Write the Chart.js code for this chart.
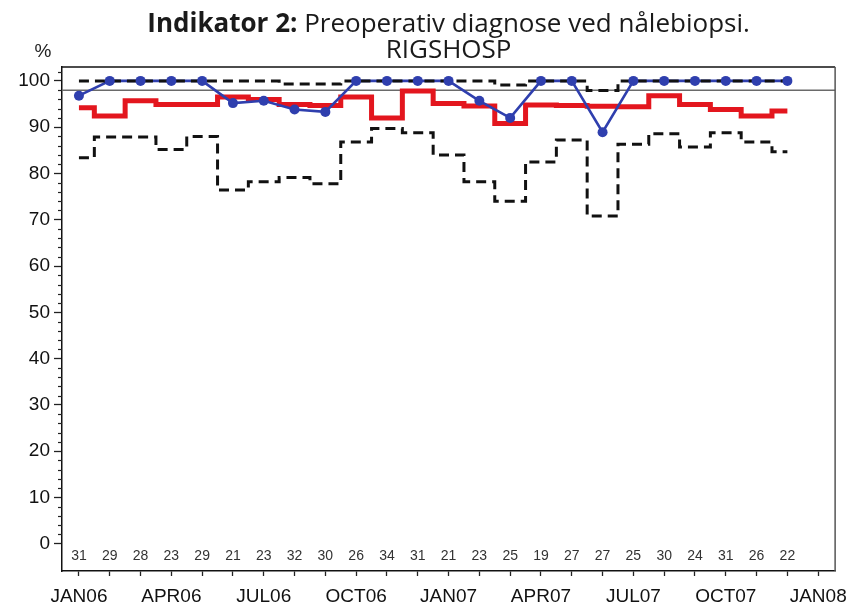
<!DOCTYPE html>
<html><head><meta charset="utf-8">
<script src="https://cdn.jsdelivr.net/npm/chart.js@4.4.1/dist/chart.umd.min.js"></script>
<style>html,body{margin:0;padding:0;background:#fff;}canvas{display:block;}</style>
</head><body>
<canvas id="c" width="856" height="606"></canvas>
<script>
// ---- data ----
const monthIndex = [0,1,2,3,4,5,6,7,8,9,10,11,12,13,14,15,16,17,18,19,20,21,22,23];
const axisMonths = [0,1,2,3,4,5,6,7,8,9,10,11,12,13,14,15,16,17,18,19,20,21,22,23,24];
const quarterMonths = [0,3,6,9,12,15,18,21,24];
const quarterLabels = ['JAN06','APR06','JUL06','OCT06','JAN07','APR07','JUL07','OCT07','JAN08'];
const yTickValues = [0,10,20,30,40,50,60,70,80,90,100];
const observedPct = [96.8,100,100,100,100,95.2,95.7,93.8,93.3,100,100,100,100,95.7,92.0,100,100,88.9,100,100,100,100,100,100];
const runningMean = [94.2,92.4,95.7,94.9,94.9,96.5,96.0,94.9,94.7,96.5,92.0,97.8,95.1,94.6,90.8,94.8,94.7,94.5,94.4,96.8,94.9,93.8,92.4,93.5];
const upperLimit = [100,100,100,100,100,100,100,99.3,99.3,100,100,100,100,100,99.1,100,100,97.9,100,100,100,100,100,100];
const lowerLimit = [83.4,87.9,87.9,85.2,88.0,76.4,78.2,79.1,77.8,86.8,89.7,88.8,84.0,78.2,74.0,82.5,87.2,70.8,86.3,88.6,85.7,88.8,86.8,84.7];
const monthlyN = [31,29,28,23,29,21,23,32,30,26,34,31,21,23,25,19,27,27,25,30,24,31,26,22];
const targetLevel = 98;
const titleBold = 'Indikator 2:';
const titleRest = ' Preoperativ diagnose ved nålebiopsi.';
const subtitle = 'RIGSHOSP';
const yUnit = '%';

const pts = arr => monthIndex.map((m, i) => ({x: m, y: arr[i]}));

const AXIS_FONT = '"Liberation Sans", Arial, sans-serif';
const TITLE_FONT = '"Open Sans", sans-serif';
const TITLE_SIZE = 26;

const decorPlugin = {
  id: 'decor',
  beforeDatasetsDraw(chart) {
    const {ctx, chartArea: a, scales: {y}} = chart;
    ctx.save();
    const ty = y.getPixelForValue(targetLevel);
    ctx.strokeStyle = '#6a6a6a';
    ctx.lineWidth = 1.5;
    ctx.beginPath(); ctx.moveTo(a.left, ty); ctx.lineTo(a.right, ty); ctx.stroke();
    ctx.restore();
  },
  afterDraw(chart) {
    const {ctx, chartArea: a, scales: {x, y}} = chart;
    ctx.save();
    // frame
    ctx.strokeStyle = '#111';
    ctx.lineWidth = 1.5;
    ctx.beginPath(); ctx.moveTo(a.left, a.top); ctx.lineTo(a.right, a.top); ctx.stroke();
    ctx.strokeStyle = '#555';
    ctx.beginPath(); ctx.moveTo(a.right, a.top); ctx.lineTo(a.right, a.bottom); ctx.stroke();
    // minor y ticks
    ctx.strokeStyle = '#222';
    ctx.lineWidth = 1.2;
    for (let v = 2; v <= 102; v += 2) {
      if (v % 10 === 0) continue;
      const py = Math.round(y.getPixelForValue(v)) + 0.5;
      ctx.beginPath(); ctx.moveTo(a.left - 4, py); ctx.lineTo(a.left, py); ctx.stroke();
    }
    // counts
    ctx.fillStyle = '#333';
    ctx.font = '14px ' + AXIS_FONT;
    ctx.textAlign = 'center';
    ctx.textBaseline = 'middle';
    monthIndex.forEach((m, i) => {
      ctx.fillText(String(monthlyN[i]), x.getPixelForValue(m), a.bottom - 15);
    });
    // unit label
    ctx.fillStyle = '#222';
    ctx.font = '19px ' + AXIS_FONT;
    ctx.textAlign = 'center';
    ctx.textBaseline = 'alphabetic';
    ctx.fillText(yUnit, 43, 57);
    // title
    const cx = (a.left + a.right) / 2;
    ctx.fillStyle = '#1a1a1a';
    ctx.font = 'bold ' + TITLE_SIZE + 'px ' + TITLE_FONT;
    const wb = ctx.measureText(titleBold).width;
    ctx.font = TITLE_SIZE + 'px ' + TITLE_FONT;
    const wr = ctx.measureText(titleRest).width;
    let sx = cx - (wb + wr) / 2;
    ctx.textAlign = 'left';
    ctx.font = 'bold ' + TITLE_SIZE + 'px ' + TITLE_FONT;
    ctx.fillText(titleBold, sx, 32);
    ctx.font = TITLE_SIZE + 'px ' + TITLE_FONT;
    ctx.fillText(titleRest, sx + wb, 32);
    ctx.textAlign = 'center';
    ctx.fillText(subtitle, cx, 58);
    ctx.restore();
  }
};

new Chart(document.getElementById('c'), {
  type: 'line',
  data: {
    datasets: [
      { label: 'observed points', data: pts(observedPct), showLine: false,
        pointRadius: 5, pointBackgroundColor: '#2f3fae', pointBorderColor: '#2f3fae', pointBorderWidth: 0, order: 0 },
      { label: 'upper', data: pts(upperLimit), stepped: 'middle', borderColor: '#111', borderWidth: 3,
        borderDash: [10, 6], pointRadius: 0, fill: false, order: 1 },
      { label: 'lower', data: pts(lowerLimit), stepped: 'middle', borderColor: '#111', borderWidth: 3,
        borderDash: [10, 6], pointRadius: 0, fill: false, order: 1 },
      { label: 'observed line', data: pts(observedPct), borderColor: '#2f3fae', borderWidth: 2.6,
        pointRadius: 0, tension: 0, fill: false, order: 2 },
      { label: 'mean', data: pts(runningMean), stepped: 'middle', borderColor: '#e3161e', borderWidth: 5,
        pointRadius: 0, fill: false, order: 3 }
    ]
  },
  options: {
    responsive: false,
    animation: false,
    events: [],
    layout: { padding: { top: 67, right: 14, left: 0, bottom: 0 } },
    plugins: { legend: { display: false }, tooltip: { enabled: false }, title: { display: false } },
    scales: {
      x: {
        type: 'linear', min: -0.55, max: 24.55,
        afterBuildTicks: s => { s.ticks = axisMonths.map(v => ({value: v})); },
        afterFit: s => { s.height = 35; },
        ticks: {
          autoSkip: false, maxRotation: 0, padding: 9, color: '#111',
          font: { family: AXIS_FONT, size: 19 },
          callback: v => { const k = quarterMonths.indexOf(v); return k >= 0 ? quarterLabels[k] : ''; }
        },
        grid: { drawOnChartArea: false, drawTicks: true, tickLength: 5, tickColor: '#222', tickWidth: 1.3 },
        border: { display: true, color: '#111', width: 1.5 }
      },
      y: {
        min: -5.9, max: 103,
        afterBuildTicks: s => { s.ticks = yTickValues.map(v => ({value: v})); },
        afterFit: s => { s.width = 62; },
        ticks: { autoSkip: false, padding: 4, color: '#111', font: { family: AXIS_FONT, size: 19 } },
        grid: { drawOnChartArea: false, drawTicks: true, tickLength: 8, tickColor: '#222', tickWidth: 1.3 },
        border: { display: true, color: '#111', width: 1.5 }
      }
    }
  },
  plugins: [decorPlugin]
});
</script>
</body></html>
